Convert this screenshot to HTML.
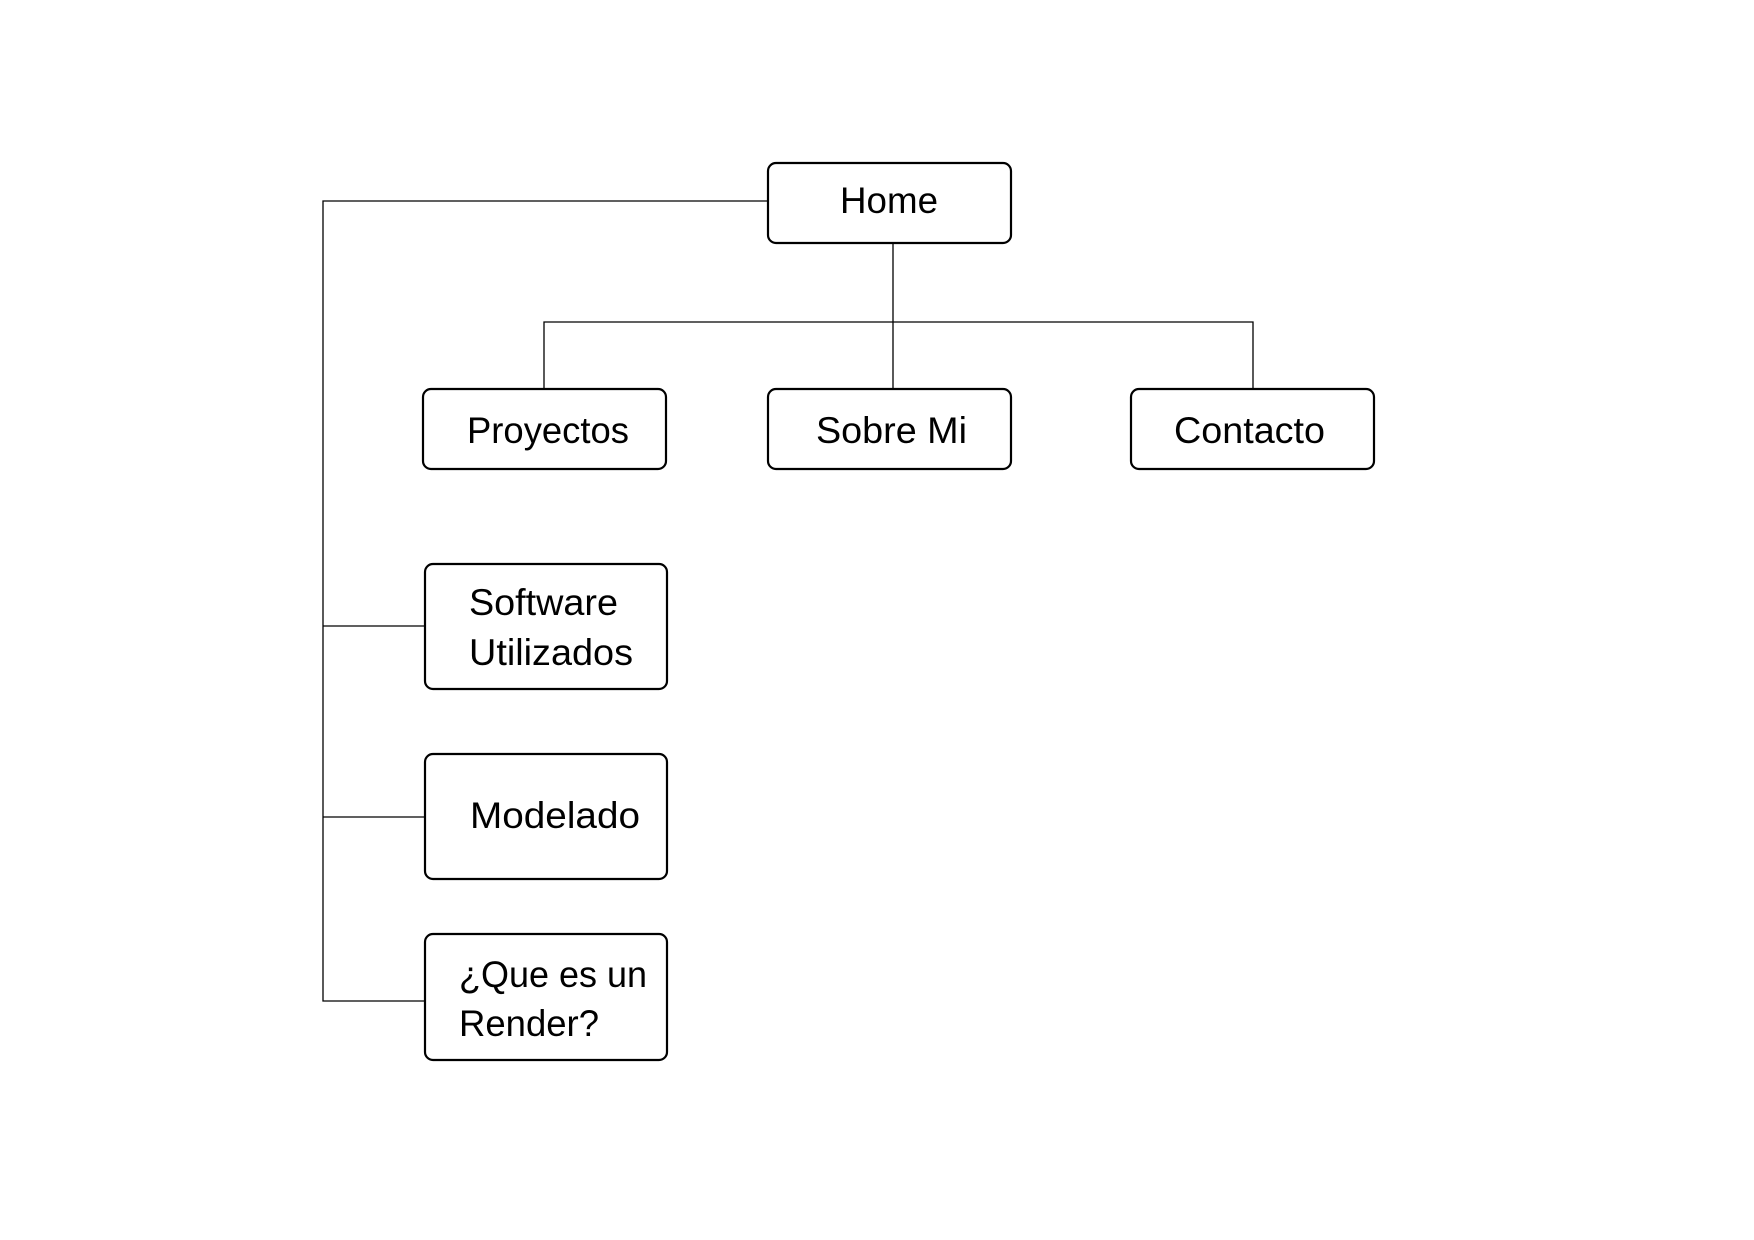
<!DOCTYPE html>
<html><head><meta charset="utf-8"><style>html,body{margin:0;padding:0;background:#fff}svg{display:block}</style></head>
<body>
<svg width="1754" height="1240" viewBox="0 0 1754 1240" xmlns="http://www.w3.org/2000/svg">
<g stroke="#000" stroke-width="1.3" fill="none">
<polyline points="768,201 323,201 323,1001 425,1001"/>
<line x1="323" y1="626" x2="425" y2="626"/>
<line x1="323" y1="817" x2="425" y2="817"/>
<line x1="893" y1="243" x2="893" y2="389"/>
<polyline points="544,389 544,322 1253,322 1253,389"/>
</g>
<g stroke="#000" stroke-width="2.2" fill="#fff">
<rect x="768" y="163" width="243" height="80" rx="8"/>
<rect x="423" y="389" width="243" height="80" rx="8"/>
<rect x="768" y="389" width="243" height="80" rx="8"/>
<rect x="1131" y="389" width="243" height="80" rx="8"/>
<rect x="425" y="564" width="242" height="125" rx="8"/>
<rect x="425" y="754" width="242" height="125" rx="8"/>
<rect x="425" y="934" width="242" height="126" rx="8"/>
</g>
<g font-family="Liberation Sans, sans-serif" font-size="37" fill="#000">
<text x="840" y="213" textLength="98" lengthAdjust="spacingAndGlyphs">Home</text>
<text x="467" y="443" textLength="162" lengthAdjust="spacingAndGlyphs">Proyectos</text>
<text x="816" y="443" textLength="151" lengthAdjust="spacingAndGlyphs">Sobre Mi</text>
<text x="1174" y="443" textLength="151" lengthAdjust="spacingAndGlyphs">Contacto</text>
<text x="469" y="615" textLength="149" lengthAdjust="spacingAndGlyphs">Software</text>
<text x="469" y="665" textLength="164" lengthAdjust="spacingAndGlyphs">Utilizados</text>
<text x="470" y="828" textLength="170" lengthAdjust="spacingAndGlyphs">Modelado</text>
<text x="459" y="987" textLength="188" lengthAdjust="spacingAndGlyphs">¿Que es un</text>
<text x="459" y="1036" textLength="140" lengthAdjust="spacingAndGlyphs">Render?</text>
</g>
</svg>
</body></html>
